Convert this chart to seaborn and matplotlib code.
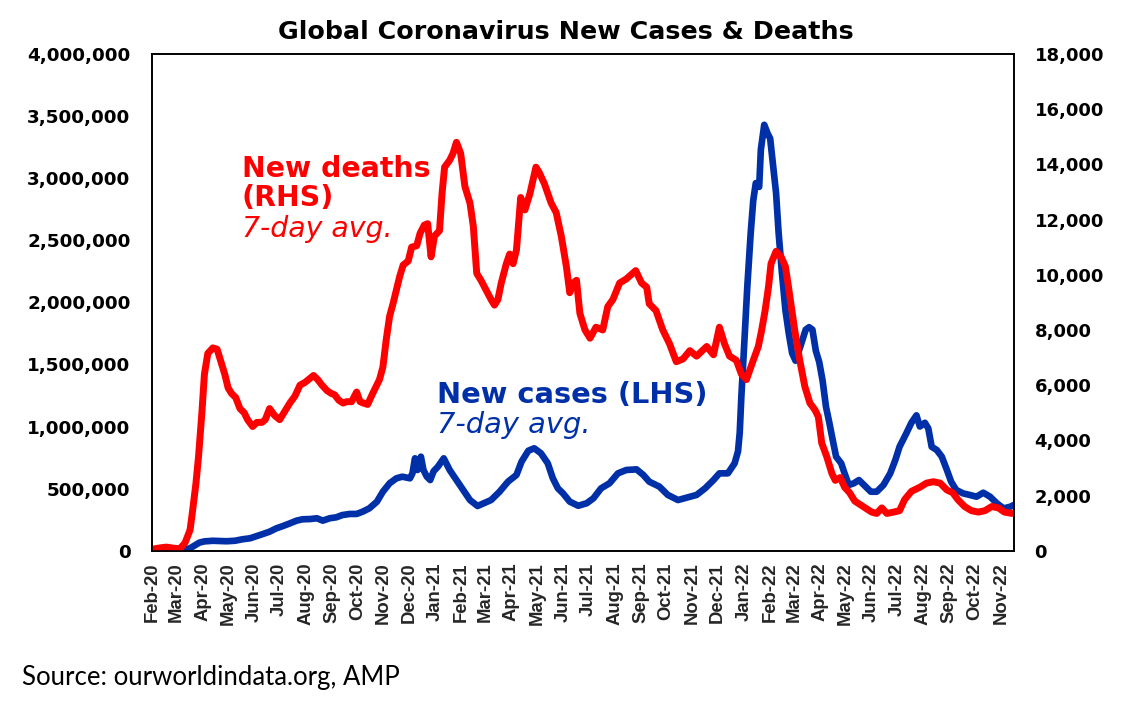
import matplotlib
matplotlib.use("Agg")
import matplotlib.pyplot as plt
import matplotlib.dates as mdates
from matplotlib.ticker import FuncFormatter, MultipleLocator
import pandas as pd
import seaborn as sns

# ---------------- data ----------------
death_dates = [
    "2020-02-01", "2020-02-10", "2020-02-18", "2020-02-27", "2020-03-05", "2020-03-11",
    "2020-03-17", "2020-03-20", "2020-03-24", "2020-03-27", "2020-03-31", "2020-04-03",
    "2020-04-07", "2020-04-13", "2020-04-18", "2020-04-21", "2020-04-27", "2020-05-01",
    "2020-05-05", "2020-05-10", "2020-05-15", "2020-05-20", "2020-05-24", "2020-05-30",
    "2020-06-04", "2020-06-10", "2020-06-14", "2020-06-19", "2020-06-25", "2020-07-01",
    "2020-07-07", "2020-07-13", "2020-07-19", "2020-07-25", "2020-07-31", "2020-08-06",
    "2020-08-10", "2020-08-15", "2020-08-20", "2020-08-26", "2020-08-31", "2020-09-04",
    "2020-09-09", "2020-09-14", "2020-09-18", "2020-09-24", "2020-09-30", "2020-10-04",
    "2020-10-08", "2020-10-13", "2020-10-19", "2020-10-27", "2020-10-31", "2020-11-04",
    "2020-11-08", "2020-11-12", "2020-11-16", "2020-11-20", "2020-11-24", "2020-11-30",
    "2020-12-04", "2020-12-10", "2020-12-14", "2020-12-19", "2020-12-23", "2020-12-27",
    "2020-12-31", "2021-01-06", "2021-01-09", "2021-01-12", "2021-01-18", "2021-01-22",
    "2021-01-26", "2021-01-31", "2021-02-05", "2021-02-11", "2021-02-15", "2021-02-19",
    "2021-02-24", "2021-03-02", "2021-03-08", "2021-03-12", "2021-03-16", "2021-03-20",
    "2021-03-26", "2021-03-30", "2021-04-03", "2021-04-07", "2021-04-12", "2021-04-17",
    "2021-04-23", "2021-04-30", "2021-05-04", "2021-05-10", "2021-05-18", "2021-05-24",
    "2021-05-30", "2021-06-05", "2021-06-09", "2021-06-13", "2021-06-17", "2021-06-21",
    "2021-06-27", "2021-07-03", "2021-07-10", "2021-07-18", "2021-07-24", "2021-07-30",
    "2021-08-07", "2021-08-15", "2021-08-26", "2021-09-02", "2021-09-08", "2021-09-11",
    "2021-09-19", "2021-09-27", "2021-10-05", "2021-10-13", "2021-10-21", "2021-10-29",
    "2021-11-06", "2021-11-18", "2021-11-26", "2021-12-03", "2021-12-09", "2021-12-15",
    "2021-12-23", "2021-12-29", "2022-01-04", "2022-01-12", "2022-01-18", "2022-01-22",
    "2022-01-26", "2022-01-30", "2022-02-02", "2022-02-08", "2022-02-14", "2022-02-19",
    "2022-02-22", "2022-02-26", "2022-03-02", "2022-03-08", "2022-03-14", "2022-03-20",
    "2022-03-26", "2022-03-30", "2022-04-03", "2022-04-09", "2022-04-15", "2022-04-19",
    "2022-04-25", "2022-04-30", "2022-05-06", "2022-05-12", "2022-05-22", "2022-06-01",
    "2022-06-07", "2022-06-13", "2022-06-19", "2022-06-27", "2022-07-04", "2022-07-10",
    "2022-07-18", "2022-07-28", "2022-08-05", "2022-08-13", "2022-08-21", "2022-08-29",
    "2022-09-05", "2022-09-11", "2022-09-19", "2022-09-27", "2022-10-05", "2022-10-13",
    "2022-10-21", "2022-10-29", "2022-11-05", "2022-11-14",
]
death_values = [
    50, 100, 130, 90, 70, 280,
    750, 1450, 2450, 3400, 5000, 6400,
    7150, 7350, 7300, 7000, 6400, 5900,
    5700, 5550, 5150, 5000, 4750, 4500,
    4650, 4650, 4750, 5150, 4900, 4750,
    5050, 5350, 5600, 6000, 6100, 6250,
    6350, 6200, 6000, 5800, 5700, 5650,
    5450, 5350, 5400, 5400, 5750, 5400,
    5350, 5300, 5700, 6200, 6650, 7650,
    8500, 8950, 9450, 9950, 10350, 10500,
    11000, 11050, 11500, 11800, 11850, 10650,
    11400, 11600, 12950, 13900, 14150, 14400,
    14800, 14400, 13200, 12600, 11750, 10050,
    9800, 9450, 9100, 8900, 9100, 9700,
    10400, 10750, 10400, 10900, 12800, 12350,
    12950, 13900, 13700, 13300, 12600, 12250,
    11400, 10300, 9350, 9700, 9800, 8600,
    8000, 7700, 8100, 8000, 8850, 9100,
    9700, 9850, 10150, 9700, 9550, 8950,
    8700, 8000, 7500, 6850, 6950, 7250,
    7050, 7400, 7100, 8100, 7500, 7050,
    6900, 6400, 6200, 6900, 7400, 8000,
    8700, 9550, 10400, 10850, 10650, 10300,
    9700, 8850, 8000, 6900, 5950, 5350,
    5100, 4850, 3900, 3400, 2800, 2550,
    2650, 2300, 2100, 1800, 1600, 1400,
    1350, 1550, 1350, 1400, 1450, 1850,
    2150, 2300, 2450, 2500, 2450, 2200,
    2100, 1850, 1600, 1450, 1400, 1450,
    1600, 1550, 1400, 1350,
]

case_dates = [
    "2020-02-01", "2020-02-16", "2020-03-01", "2020-03-11", "2020-03-17", "2020-03-23",
    "2020-03-28", "2020-04-03", "2020-04-13", "2020-04-21", "2020-04-29", "2020-05-09",
    "2020-05-18", "2020-05-27", "2020-06-04", "2020-06-11", "2020-06-19", "2020-06-27",
    "2020-07-05", "2020-07-13", "2020-07-21", "2020-07-28", "2020-08-06", "2020-08-14",
    "2020-08-21", "2020-08-29", "2020-09-06", "2020-09-13", "2020-09-22", "2020-09-30",
    "2020-10-07", "2020-10-15", "2020-10-24", "2020-10-31", "2020-11-08", "2020-11-16",
    "2020-11-23", "2020-12-02", "2020-12-05", "2020-12-08", "2020-12-11", "2020-12-15",
    "2020-12-18", "2020-12-22", "2020-12-26", "2020-12-30", "2021-01-04", "2021-01-11",
    "2021-01-18", "2021-01-26", "2021-02-03", "2021-02-11", "2021-02-20", "2021-03-01",
    "2021-03-08", "2021-03-18", "2021-03-28", "2021-04-07", "2021-04-13", "2021-04-21",
    "2021-04-28", "2021-05-06", "2021-05-14", "2021-05-20", "2021-05-26", "2021-06-01",
    "2021-06-09", "2021-06-19", "2021-06-29", "2021-07-07", "2021-07-16", "2021-07-26",
    "2021-08-05", "2021-08-15", "2021-08-27", "2021-09-04", "2021-09-11", "2021-09-23",
    "2021-10-03", "2021-10-15", "2021-10-25", "2021-11-06", "2021-11-16", "2021-11-26",
    "2021-12-03", "2021-12-13", "2021-12-21", "2021-12-25", "2021-12-27", "2021-12-29",
    "2022-01-01", "2022-01-05", "2022-01-09", "2022-01-12", "2022-01-15", "2022-01-19",
    "2022-01-21", "2022-01-25", "2022-01-29", "2022-02-01", "2022-02-05", "2022-02-08",
    "2022-02-11", "2022-02-15", "2022-02-19", "2022-02-23", "2022-02-27", "2022-03-03",
    "2022-03-09", "2022-03-15", "2022-03-19", "2022-03-23", "2022-03-27", "2022-03-31",
    "2022-04-04", "2022-04-08", "2022-04-12", "2022-04-16", "2022-04-20", "2022-04-26",
    "2022-04-30", "2022-05-05", "2022-05-11", "2022-05-17", "2022-05-23", "2022-05-31",
    "2022-06-07", "2022-06-15", "2022-06-23", "2022-06-29", "2022-07-04", "2022-07-12",
    "2022-07-18", "2022-07-24", "2022-07-28", "2022-08-03", "2022-08-07", "2022-08-11",
    "2022-08-17", "2022-08-23", "2022-08-29", "2022-09-03", "2022-09-09", "2022-09-17",
    "2022-09-25", "2022-10-03", "2022-10-11", "2022-10-19", "2022-10-27", "2022-11-04",
    "2022-11-12", "2022-11-16",
]
case_values = [
    2000, 2500, 2000, 8000, 20000, 45000,
    65000, 75000, 80000, 78000, 76000, 80000,
    92000, 100000, 118000, 134000, 153000, 180000,
    199000, 220000, 242000, 253000, 255000, 261000,
    242000, 261000, 269000, 287000, 296000, 296000,
    314000, 341000, 395000, 475000, 543000, 583000,
    596000, 583000, 623000, 744000, 650000, 757000,
    650000, 596000, 569000, 640000, 676000, 744000,
    650000, 569000, 489000, 408000, 360000, 387000,
    408000, 475000, 556000, 610000, 717000, 805000,
    825000, 784000, 704000, 583000, 502000, 462000,
    395000, 362000, 382000, 422000, 502000, 543000,
    623000, 650000, 655000, 610000, 556000, 516000,
    449000, 408000, 427000, 449000, 502000, 569000,
    623000, 623000, 704000, 800000, 950000, 1250000,
    1620000, 2130000, 2560000, 2820000, 2960000, 2930000,
    3230000, 3430000, 3360000, 3320000, 3070000, 2880000,
    2560000, 2230000, 1940000, 1750000, 1590000, 1530000,
    1650000, 1780000, 1800000, 1780000, 1610000, 1520000,
    1370000, 1160000, 1030000, 891000, 757000, 704000,
    623000, 529000, 543000, 569000, 529000, 475000,
    475000, 529000, 623000, 730000, 837000, 945000,
    1030000, 1090000, 1000000, 1030000, 985000, 837000,
    811000, 757000, 650000, 556000, 489000, 462000,
    449000, 435000, 467000, 435000, 382000, 341000,
    354000, 368000,
]

x_start = "2020-02-01"
x_end = "2022-11-16"

# ---------------- style ----------------
sns.set_style("white")
plt.rcParams["font.family"] = ["DejaVu Sans"]
plt.rcParams["font.weight"] = "bold"

W, H = 1132, 708
fig = plt.figure(figsize=(W / 100, H / 100), dpi=100)
fig.patch.set_facecolor("white")

L, R, T, B = 152, 1013.7, 54, 550.7
ax = fig.add_axes([L / W, 1 - B / H, (R - L) / W, (B - T) / H])
ax2 = ax.twinx()

cases = pd.DataFrame({"date": pd.to_datetime(case_dates), "cases": case_values})
deaths = pd.DataFrame({"date": pd.to_datetime(death_dates), "deaths": death_values})

BLUE = "#0030A8"
RED = "#FF0000"

sns.lineplot(data=cases, x="date", y="cases", ax=ax, color=BLUE, linewidth=4.8,
             solid_joinstyle="round", solid_capstyle="round")
sns.lineplot(data=deaths, x="date", y="deaths", ax=ax2, color=RED, linewidth=5.0,
             solid_joinstyle="round", solid_capstyle="round")

ax.set_xlim(pd.Timestamp(x_start), pd.Timestamp(x_end))
ax.set_ylim(0, 4_000_000)
ax2.set_ylim(0, 18_000)
ax.yaxis.set_major_locator(MultipleLocator(500_000))
ax2.yaxis.set_major_locator(MultipleLocator(2_000))
fmt = FuncFormatter(lambda v, p: f"{v:,.0f}")
ax.yaxis.set_major_formatter(fmt)
ax2.yaxis.set_major_formatter(fmt)

ax.xaxis.set_major_locator(mdates.MonthLocator())
ax.xaxis.set_major_formatter(mdates.DateFormatter("%b-%y"))

for a in (ax, ax2):
    a.set_xlabel("")
    a.set_ylabel("")
    for s in a.spines.values():
        s.set_color("black")
        s.set_linewidth(1.2)
    a.grid(False)

ax.tick_params(axis="x", direction="out", length=4.5, width=1.2, color="black",
               pad=4, labelsize=13.3, labelrotation=90, labelfontfamily="Liberation Sans")
ax.tick_params(axis="y", length=0, pad=15.5, labelsize=13.2, labelcolor="black")
ax2.tick_params(axis="y", length=0, pad=15.0, labelsize=13.0, labelcolor="black")
for lbl in ax.get_xticklabels():
    lbl.set_fontweight("bold")

def fx(px):
    return px / W

def fy(py):
    return 1 - py / H

# title
fig.text(fx(566), fy(39.3), "Global Coronavirus New Cases & Deaths", ha="center",
         va="baseline", fontsize=18.3, fontweight="bold", color="black")

# series annotations
fig.text(fx(242), fy(177), "New deaths", color=RED, fontsize=20.4, fontweight="bold",
         va="baseline", ha="left")
fig.text(fx(242), fy(206), "(RHS)", color=RED, fontsize=20.4, fontweight="bold",
         va="baseline", ha="left")
fig.text(fx(242), fy(237), "7-day avg.", color=RED, fontsize=20.4, fontweight="normal",
         style="italic", va="baseline", ha="left")
fig.text(fx(437), fy(403), "New cases (LHS)", color=BLUE, fontsize=20.8, fontweight="bold",
         va="baseline", ha="left")
fig.text(fx(437), fy(433), "7-day avg.", color=BLUE, fontsize=20.8, fontweight="normal",
         style="italic", va="baseline", ha="left")

# source
fig.text(fx(22), fy(685), "Source: ourworldindata.org, AMP", family="Lato",
         fontweight="normal", fontsize=18.5, color="black", va="baseline", ha="left")

fig.savefig("out.png", dpi=100, facecolor="white")
